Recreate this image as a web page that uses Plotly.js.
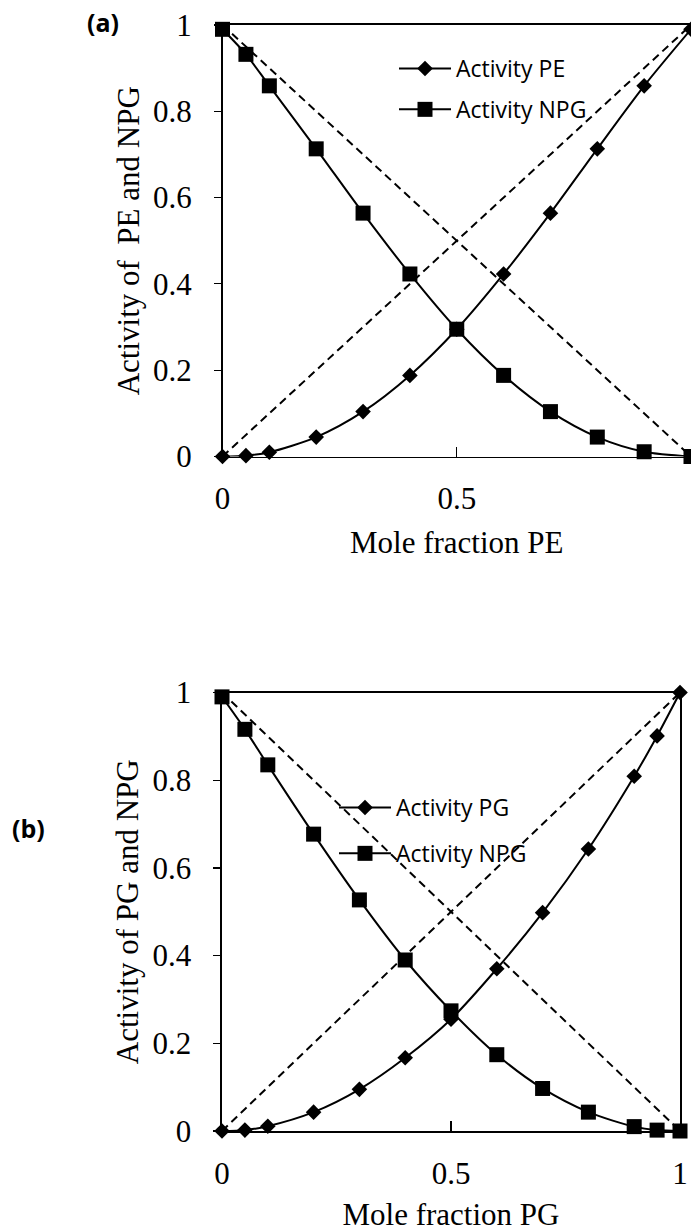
<!DOCTYPE html>
<html>
<head>
<meta charset="utf-8">
<script src="https://cdn.plot.ly/plotly-3.0.1.min.js"></script>
<style>html,body{margin:0;padding:0;background:#fff;}#chart{width:691px;height:1232px;}</style>
</head>
<body>
<div id="chart"></div>
<script>
// Panel (a): PE / NPG
var xA = [0, 0.05, 0.1, 0.2, 0.3, 0.4, 0.5, 0.6, 0.7, 0.8, 0.9, 1];
var actPE = [0, 0.002, 0.010, 0.045, 0.104, 0.188, 0.295, 0.423, 0.564, 0.713, 0.859, 0.99];
var actNPG_A = [0.99, 0.932, 0.859, 0.713, 0.564, 0.423, 0.295, 0.188, 0.104, 0.045, 0.011, 0];
// Panel (b): PG / NPG
var xB = [0, 0.05, 0.1, 0.2, 0.3, 0.4, 0.5, 0.6, 0.7, 0.8, 0.9, 0.95, 1];
var actPG = [0, 0.002, 0.011, 0.043, 0.095, 0.167, 0.255, 0.370, 0.498, 0.643, 0.809, 0.901, 1];
var actNPG_B = [0.99, 0.916, 0.835, 0.677, 0.527, 0.390, 0.274, 0.174, 0.097, 0.043, 0.010, 0.002, 0];
// Ideal (Raoult) lines
var idealX = [0, 1];
var idealUp = [0, 1];
var idealDown = [1, 0];

var W = 691, H = 1232;
function px(x){ return Math.min(1, x / W); }
function py(y){ return 1 - y / H; }

var serif = 'Liberation Serif, Times New Roman, serif';
var sans = 'Open Sans, sans-serif';

function dashTrace(y, xa, ya){
  return {x: idealX, y: y, xaxis: xa, yaxis: ya, mode: 'lines', showlegend: false,
          line: {color: '#000', width: 2, dash: '8px,5px'}, hoverinfo: 'skip'};
}
function series(x, y, name, sym, size, xa, ya, leg, grp){
  return {x: x, y: y, xaxis: xa, yaxis: ya, name: name, mode: 'lines+markers',
          legend: leg, legendgroup: grp, cliponaxis: false,
          line: {color: '#000', width: 2, shape: 'spline', smoothing: 0.8},
          marker: {symbol: sym, size: size, color: '#000'}};
}

var data = [
  dashTrace(idealUp, 'x', 'y'),
  dashTrace(idealDown, 'x', 'y'),
  series(xA, actPE, 'Activity PE', 'diamond', 12, 'x', 'y', 'legend', 'a1'),
  series(xA, actNPG_A, 'Activity NPG', 'square', 15, 'x', 'y', 'legend', 'a2'),
  dashTrace(idealUp, 'x2', 'y2'),
  dashTrace(idealDown, 'x2', 'y2'),
  series(xB, actPG, 'Activity PG', 'diamond', 12, 'x2', 'y2', 'legend2', 'b1'),
  series(xB, actNPG_B, 'Activity NPG', 'square', 15, 'x2', 'y2', 'legend2', 'b2')
];

function xAxis(domain, title, anchor){
  return {domain: domain, range: [0, 1], anchor: anchor, tickvals: [0, 0.5, 1], ticktext: ['0', '0.5', '1'],
          ticks: 'inside', ticklen: 10, tickwidth: 1.2, tickcolor: '#000',
          showline: true, linecolor: '#000', linewidth: 1.6, mirror: true,
          showgrid: false, zeroline: false, ticklabelstandoff: 14,
          tickfont: {family: serif, size: 31, color: '#000'},
          title: {text: title, font: {family: serif, size: 31, color: '#000'}, standoff: 16}};
}
function yAxis(domain, title, anchor){
  return {domain: domain, range: [0, 1], anchor: anchor, tickvals: [0, 0.2, 0.4, 0.6, 0.8, 1],
          ticktext: ['0', '0.2', '0.4', '0.6', '0.8', '1'],
          ticks: 'outside', ticklen: 7, tickwidth: 1.2, tickcolor: '#000',
          showline: true, linecolor: '#000', linewidth: 1.6, mirror: true,
          showgrid: false, zeroline: false, ticklabelstandoff: 16,
          tickfont: {family: serif, size: 31, color: '#000'},
          title: {text: title, font: {family: serif, size: 31, color: '#000'}, standoff: 4}};
}

var layout = {
  width: W, height: H,
  margin: {l: 0, r: 0, t: 0, b: 0},
  paper_bgcolor: '#fff', plot_bgcolor: '#fff',
  showlegend: true,
  xaxis: xAxis([px(222.5), 1], 'Mole fraction PE', 'y'),
  yaxis: yAxis([py(456.5), py(25)], 'Activity of  PE and NPG', 'x'),
  xaxis2: xAxis([px(222), px(680)], 'Mole fraction PG', 'y2'),
  yaxis2: yAxis([py(1131), py(692.5)], 'Activity of PG and NPG', 'x2'),
  legend: {x: px(394), y: py(47), xanchor: 'left', yanchor: 'top', bgcolor: 'rgba(0,0,0,0)',
           font: {family: sans, size: 23, color: '#000'}, itemwidth: 52, tracegroupgap: 8},
  legend2: {x: px(334), y: py(786), xanchor: 'left', yanchor: 'top', bgcolor: 'rgba(0,0,0,0)',
           font: {family: sans, size: 23, color: '#000'}, itemwidth: 52, tracegroupgap: 13},
  annotations: [
    {text: '<b>(a)</b>', x: px(103), y: py(22), xref: 'paper', yref: 'paper', showarrow: false,
     xanchor: 'center', yanchor: 'middle', font: {family: sans, size: 25, color: '#000'}},
    {text: '<b>(b)</b>', x: px(28), y: py(828), xref: 'paper', yref: 'paper', showarrow: false,
     xanchor: 'center', yanchor: 'middle', font: {family: sans, size: 25, color: '#000'}}
  ]
};

Plotly.newPlot('chart', data, layout, {displayModeBar: false, staticPlot: true});
</script>
</body>
</html>
